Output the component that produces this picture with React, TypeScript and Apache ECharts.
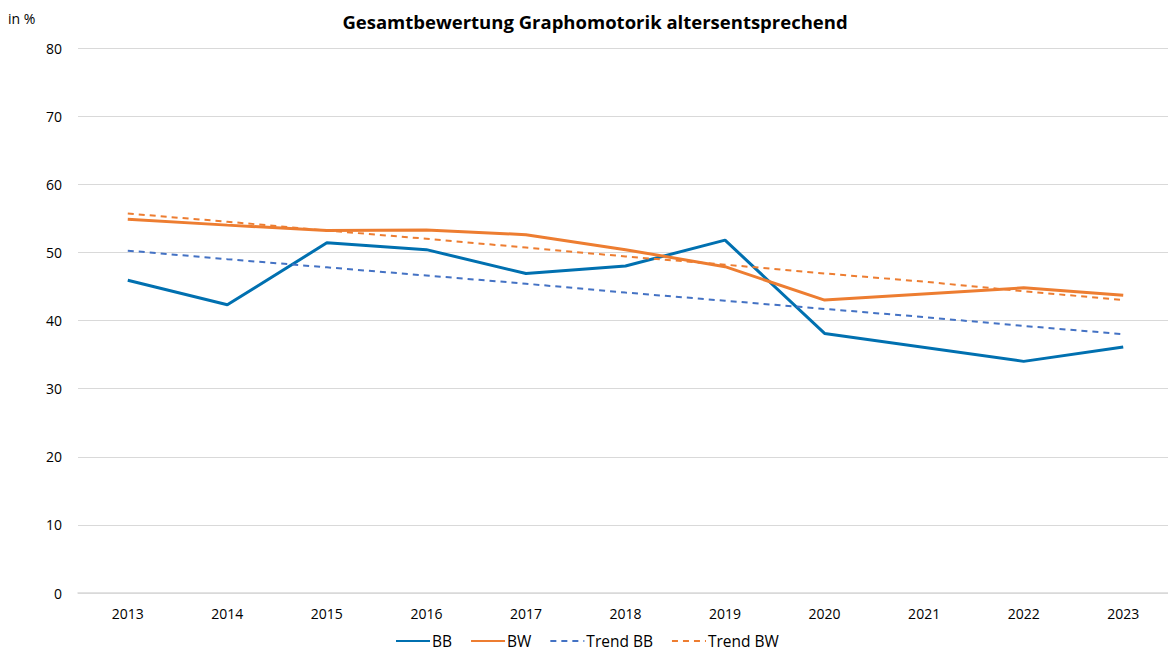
import React, { useEffect, useRef } from "react";
import * as echarts from "echarts";

const years = ["2013", "2014", "2015", "2016", "2017", "2018", "2019", "2020", "2021", "2022", "2023"];
const bb = [45.9, 42.3, 51.4, 50.4, 46.9, 48.0, 51.8, 38.1, null, 34.0, 36.1];
const bw = [54.85, 54.0, 53.2, 53.3, 52.6, 50.4, 47.9, 43.0, null, 44.8, 43.7];
const trendBB = [50.25, 49.0, 47.8, 46.6, 45.4, 44.1, 42.9, 41.7, 40.5, 39.2, 38.0];
const trendBW = [55.7, 54.5, 53.2, 52.0, 50.7, 49.4, 48.2, 46.9, 45.7, 44.3, 43.0];

const FONT = "Open Sans";

export default function App() {
  const ref = useRef<HTMLDivElement>(null);
  useEffect(() => {
    if (!ref.current) return;
    const chart = echarts.init(ref.current, undefined, { renderer: "svg" });
    chart.setOption({
      animation: false,
      textStyle: { fontFamily: FONT },
      title: {
        text: "Gesamtbewertung Graphomotorik altersentsprechend",
        left: 590,
        top: 7,
        textAlign: "center",
        textStyle: { fontFamily: FONT, fontSize: 18.5, fontWeight: "bold", color: "#000" },
      },
      graphic: [
        {
          type: "text",
          left: 8,
          top: 11,
          style: { text: "in %", fontFamily: FONT, fontSize: 14, fill: "#000" },
        },
      ],
      legend: {
        bottom: 1,
        left: 390,
        itemWidth: 34,
        itemHeight: 3,
        itemGap: 18,
        itemStyle: { opacity: 0 },
        textStyle: { fontFamily: FONT, fontSize: 15.5, color: "#000", padding: [0, 0, 0, -3] },
        data: ["BB", "BW", "Trend BB", "Trend BW"],
      },
      grid: { left: 78, right: 0, top: 48, bottom: 62, containLabel: false },
      xAxis: {
        type: "category",
        data: years,
        boundaryGap: true,
        axisLine: { show: true, lineStyle: { color: "#d9d9d9", width: 1.5 } },
        axisTick: { show: false },
        axisLabel: { color: "#000", fontSize: 14, fontFamily: FONT, margin: 13 },
      },
      yAxis: {
        type: "value",
        min: 0,
        max: 80,
        interval: 10,
        axisLine: { show: false },
        axisTick: { show: false },
        axisLabel: { color: "#000", fontSize: 14, fontFamily: FONT, margin: 16 },
        splitLine: { lineStyle: { color: "#d9d9d9", width: 1 } },
      },
      series: [
        {
          name: "BB",
          type: "line",
          data: bb,
          connectNulls: true,
          symbol: "none",
          lineStyle: { color: "#0070b0", width: 3 },
          itemStyle: { color: "#0070b0" },
        },
        {
          name: "BW",
          type: "line",
          data: bw,
          connectNulls: true,
          symbol: "none",
          lineStyle: { color: "#ed7d31", width: 3 },
          itemStyle: { color: "#ed7d31" },
        },
        {
          name: "Trend BB",
          type: "line",
          data: trendBB,
          symbol: "none",
          lineStyle: { color: "#4472c4", width: 2, type: [6, 5] },
          itemStyle: { color: "#4472c4" },
        },
        {
          name: "Trend BW",
          type: "line",
          data: trendBW,
          symbol: "none",
          lineStyle: { color: "#ed7d31", width: 2, type: [6, 5] },
          itemStyle: { color: "#ed7d31" },
        },
      ],
    });
    return () => chart.dispose();
  }, []);
  return (
    <div style={{ position: "fixed", left: 0, top: 0, width: 1168, height: 655, overflow: "hidden", background: "#fff" }}>
      <div ref={ref} style={{ width: 1173, height: 655 }} />
    </div>
  );
}
